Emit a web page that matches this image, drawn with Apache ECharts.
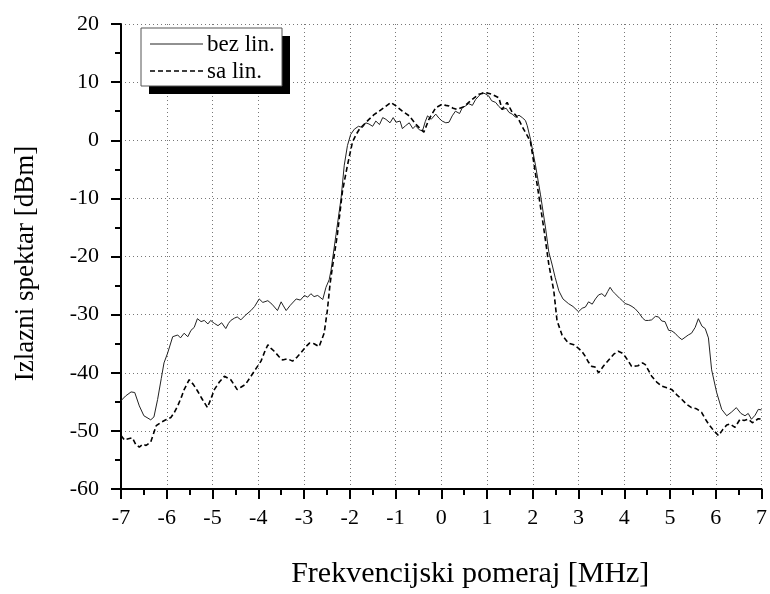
<!DOCTYPE html>
<html>
<head>
<meta charset="utf-8">
<script src="https://cdn.jsdelivr.net/npm/echarts@6/dist/echarts.min.js"></script>
<style>
  html, body { margin: 0; padding: 0; background: #fff; }
  #chart { width: 770px; height: 594px; }
</style>
</head>
<body>
<div id="chart"></div>
<script>
// bez lin. (puna linija)
var freqBez = [-7.00, -6.90, -6.78, -6.70, -6.60, -6.50, -6.35, -6.28, -6.20, -6.12, -6.06, -5.98, -5.87, -5.76, -5.70, -5.62, -5.54, -5.47, -5.40, -5.33, -5.25, -5.18, -5.10, -5.04, -4.96, -4.88, -4.80, -4.71, -4.65, -4.60, -4.52, -4.46, -4.38, -4.28, -4.16, -4.08, -3.98, -3.90, -3.79, -3.70, -3.58, -3.50, -3.45, -3.39, -3.30, -3.17, -3.08, -2.99, -2.92, -2.85, -2.78, -2.70, -2.59, -2.52, -2.45, -2.41, -2.30, -2.19, -2.12, -2.05, -1.98, -1.90, -1.81, -1.72, -1.65, -1.58, -1.50, -1.43, -1.35, -1.28, -1.21, -1.12, -1.05, -0.99, -0.90, -0.85, -0.78, -0.70, -0.62, -0.56, -0.48, -0.41, -0.35, -0.30, -0.22, -0.12, -0.05, 0.02, 0.10, 0.17, 0.24, 0.31, 0.40, 0.46, 0.53, 0.60, 0.68, 0.75, 0.82, 0.89, 0.96, 1.04, 1.10, 1.19, 1.26, 1.33, 1.42, 1.48, 1.55, 1.62, 1.70, 1.77, 1.84, 1.88, 1.95, 2.06, 2.17, 2.28, 2.35, 2.42, 2.49, 2.57, 2.66, 2.78, 2.88, 3.00, 3.08, 3.15, 3.22, 3.30, 3.37, 3.44, 3.51, 3.58, 3.64, 3.69, 3.75, 3.80, 3.90, 3.96, 4.02, 4.10, 4.17, 4.24, 4.33, 4.40, 4.46, 4.53, 4.60, 4.68, 4.75, 4.82, 4.89, 4.97, 5.04, 5.11, 5.18, 5.26, 5.33, 5.40, 5.47, 5.55, 5.62, 5.70, 5.77, 5.84, 5.91, 6.02, 6.13, 6.24, 6.34, 6.45, 6.55, 6.64, 6.71, 6.78, 6.86, 6.93, 7.00];
var levelBez = [-44.8, -44.0, -43.3, -43.4, -45.7, -47.4, -48.1, -47.6, -44.6, -41.0, -38.3, -36.6, -33.8, -33.5, -34.0, -33.2, -33.8, -32.7, -32.2, -30.7, -31.2, -31.0, -31.6, -31.0, -31.5, -31.9, -31.4, -32.4, -31.5, -31.0, -30.6, -30.4, -30.9, -30.1, -29.3, -28.6, -27.3, -27.9, -27.6, -28.2, -29.3, -27.8, -28.5, -29.3, -28.4, -27.3, -27.5, -26.7, -27.0, -26.4, -26.9, -26.7, -27.4, -25.3, -24.0, -22.4, -16.2, -10.0, -4.3, -0.9, 1.0, 1.9, 2.4, 2.2, 3.0, 2.8, 2.4, 3.3, 2.7, 3.9, 3.6, 3.0, 3.9, 3.1, 3.3, 2.0, 2.5, 3.0, 2.0, 2.5, 1.8, 1.6, 3.2, 4.2, 3.6, 4.5, 3.8, 3.3, 3.0, 3.1, 4.2, 5.0, 4.6, 5.6, 5.9, 6.3, 6.0, 7.0, 7.6, 8.2, 8.0, 7.6, 6.8, 6.5, 5.8, 5.3, 5.5, 4.8, 4.5, 4.0, 4.3, 3.9, 3.4, 2.5, 0.2, -4.3, -9.4, -15.1, -19.2, -21.3, -23.6, -25.9, -27.3, -28.1, -28.6, -29.5, -28.9, -28.7, -27.8, -28.2, -27.3, -26.6, -26.4, -26.9, -26.0, -25.3, -26.0, -26.4, -27.2, -27.6, -28.1, -28.3, -28.6, -29.0, -29.8, -30.6, -31.0, -31.0, -30.9, -30.3, -30.4, -31.1, -31.2, -32.7, -32.8, -33.2, -33.8, -34.3, -33.9, -33.5, -33.2, -32.2, -30.7, -32.0, -32.4, -34.0, -39.5, -43.4, -46.3, -47.4, -46.8, -46.0, -47.0, -47.4, -47.0, -48.0, -47.3, -46.3, -46.4];

// sa lin. (isprekidana linija)
var freqSa = [-7.00, -6.92, -6.86, -6.75, -6.68, -6.60, -6.52, -6.45, -6.35, -6.23, -6.12, -6.02, -5.91, -5.84, -5.76, -5.68, -5.62, -5.51, -5.42, -5.33, -5.22, -5.11, -5.04, -4.96, -4.85, -4.74, -4.60, -4.46, -4.38, -4.28, -4.16, -4.05, -3.94, -3.86, -3.79, -3.72, -3.65, -3.55, -3.47, -3.36, -3.25, -3.15, -3.07, -2.97, -2.88, -2.78, -2.67, -2.56, -2.49, -2.43, -2.38, -2.27, -2.16, -2.05, -1.94, -1.86, -1.79, -1.68, -1.58, -1.47, -1.36, -1.22, -1.10, -0.99, -0.85, -0.70, -0.56, -0.46, -0.38, -0.27, -0.12, 0.02, 0.10, 0.17, 0.26, 0.35, 0.39, 0.50, 0.60, 0.72, 0.82, 0.97, 1.11, 1.26, 1.33, 1.44, 1.55, 1.62, 1.69, 1.80, 1.88, 1.95, 2.02, 2.13, 2.24, 2.35, 2.46, 2.53, 2.64, 2.78, 2.90, 3.00, 3.08, 3.15, 3.22, 3.29, 3.36, 3.44, 3.55, 3.66, 3.77, 3.87, 3.95, 4.02, 4.09, 4.16, 4.30, 4.40, 4.46, 4.53, 4.60, 4.71, 4.82, 4.93, 5.04, 5.15, 5.26, 5.36, 5.47, 5.58, 5.69, 5.76, 5.84, 5.95, 6.06, 6.16, 6.24, 6.31, 6.42, 6.53, 6.62, 6.71, 6.80, 6.86, 6.93, 7.00];
var levelSa = [-50.8, -51.6, -51.4, -51.2, -52.3, -52.8, -52.3, -52.5, -51.9, -49.1, -48.5, -48.1, -47.7, -46.9, -45.7, -44.2, -42.9, -41.2, -42.0, -43.1, -44.6, -46.0, -44.6, -42.9, -41.6, -40.6, -41.2, -42.9, -42.5, -42.0, -40.6, -39.3, -38.0, -36.4, -35.2, -35.8, -36.3, -37.2, -37.8, -37.6, -38.0, -37.3, -36.6, -35.6, -34.9, -35.0, -35.5, -33.2, -29.3, -24.7, -21.9, -16.2, -8.8, -4.3, -0.3, 1.0, 1.9, 2.8, 3.6, 4.4, 5.0, 5.8, 6.5, 5.9, 5.0, 4.2, 2.8, 2.0, 1.4, 3.6, 5.6, 6.2, 6.0, 5.9, 5.5, 5.3, 5.0, 5.8, 6.5, 7.3, 7.9, 8.2, 7.9, 7.3, 5.3, 6.5, 4.8, 4.4, 3.6, 1.9, 0.8, -0.3, -3.7, -9.4, -15.1, -21.3, -25.9, -31.0, -33.5, -34.9, -35.2, -35.8, -36.4, -37.2, -38.2, -38.9, -39.0, -40.0, -38.8, -37.8, -36.8, -36.3, -36.6, -37.2, -38.0, -38.9, -38.8, -38.3, -38.6, -39.6, -40.6, -41.6, -42.3, -42.6, -42.9, -43.8, -44.6, -45.4, -46.0, -46.2, -46.8, -47.8, -48.8, -49.9, -50.8, -49.7, -49.0, -48.8, -49.4, -48.0, -48.2, -48.0, -48.6, -48.3, -47.9, -48.0];

var seriesNames = ["bez lin.", "sa lin."];

function pairs(xs, ys) {
  return xs.map(function (x, i) { return [x, ys[i]]; });
}

var myChart = echarts.init(document.getElementById("chart"));
var serif = "Liberation Serif";

// legenda: okvir sa senkom, linije i tekst
var legendBox = [
  { type: "rect", z: 20, shape: { x: 149, y: 36, width: 141, height: 58 }, style: { fill: "#000" } },
  { type: "rect", z: 21, shape: { x: 141, y: 28, width: 141, height: 58 }, style: { fill: "#fff", stroke: "#555", lineWidth: 1 } },
  { type: "line", z: 22, shape: { x1: 150, y1: 44, x2: 203, y2: 44 }, style: { stroke: "#222", lineWidth: 1 } },
  { type: "line", z: 22, shape: { x1: 150, y1: 71, x2: 203, y2: 71 }, style: { stroke: "#000", lineWidth: 1.6, lineDash: [5, 3] } },
  { type: "text", z: 22, x: 207, y: 45, style: { text: seriesNames[0], fontFamily: serif, fontSize: 23, fill: "#000", verticalAlign: "middle" } },
  { type: "text", z: 22, x: 207, y: 72, style: { text: seriesNames[1], fontFamily: serif, fontSize: 23, fill: "#000", verticalAlign: "middle" } }
];

var Option = {
  animation: false,
  backgroundColor: "#fff",
  textStyle: { fontFamily: serif },
  grid: { left: 121, right: 7, top: 24, bottom: 100, containLabel: false },
  graphic: legendBox,
  xAxis: {
    type: "value",
    min: -7,
    max: 7,
    interval: 1,
    name: "Frekvencijski pomeraj [MHz]",
    nameLocation: "middle",
    nameGap: 70,
    nameTextStyle: { fontFamily: serif, fontSize: 30, color: "#000", padding: [0, 0, 0, 58] },
    axisLine: { show: true, onZero: false, lineStyle: { color: "#000", width: 2 } },
    axisTick: { show: true, inside: false, length: 10, lineStyle: { color: "#000", width: 2 } },
    minorTick: { show: true, splitNumber: 2, length: 6, lineStyle: { color: "#000", width: 2 } },
    axisLabel: { margin: 18, fontFamily: serif, fontSize: 22, color: "#000" },
    splitLine: { show: true, lineStyle: { color: "#777", width: 1, type: [1, 3] } }
  },
  yAxis: {
    type: "value",
    min: -60,
    max: 20,
    interval: 10,
    name: "Izlazni spektar [dBm]",
    nameLocation: "middle",
    nameGap: 82,
    nameTextStyle: { fontFamily: serif, fontSize: 27, color: "#000", padding: [0, 14, 0, 0] },
    axisLine: { show: true, onZero: false, lineStyle: { color: "#000", width: 2 } },
    axisTick: { show: true, inside: false, length: 10, lineStyle: { color: "#000", width: 2 } },
    minorTick: { show: true, splitNumber: 2, length: 6, lineStyle: { color: "#000", width: 2 } },
    axisLabel: { margin: 22, fontFamily: serif, fontSize: 22, color: "#000" },
    splitLine: { show: true, lineStyle: { color: "#777", width: 1, type: [1, 3] } }
  },
  series: [
    {
      name: seriesNames[0],
      type: "line",
      symbol: "none",
      lineStyle: { color: "#222", width: 1 },
      itemStyle: { color: "#000" },
      data: pairs(freqBez, levelBez)
    },
    {
      name: seriesNames[1],
      type: "line",
      symbol: "none",
      lineStyle: { color: "#000", width: 1.6, type: [5, 3] },
      itemStyle: { color: "#000" },
      data: pairs(freqSa, levelSa)
    }
  ]
};

myChart.setOption(Option);
</script>
</body>
</html>
